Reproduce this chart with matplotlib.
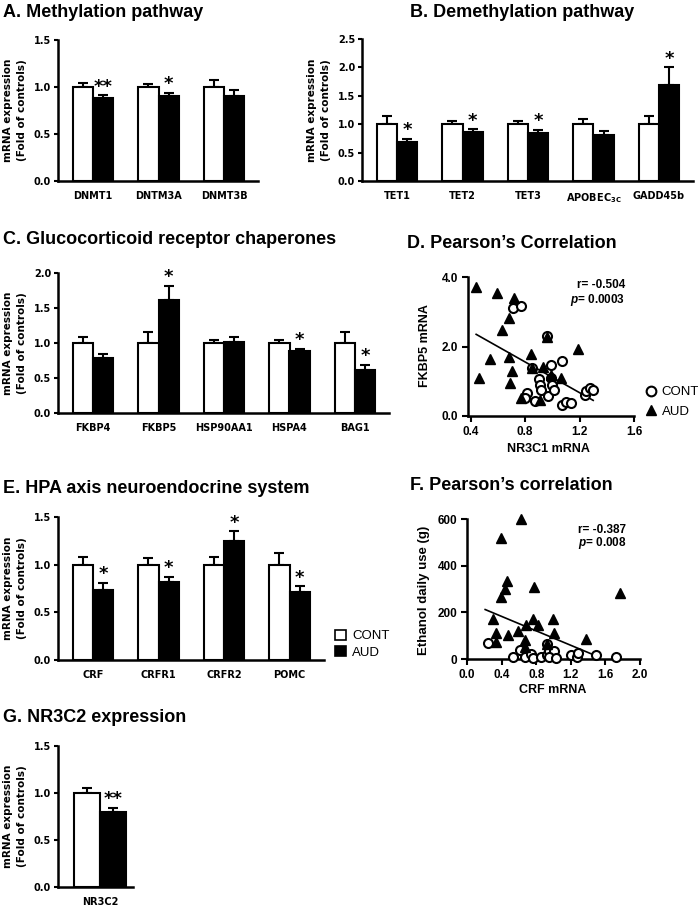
import numpy as np
import matplotlib
matplotlib.use("Agg")
import matplotlib.pyplot as plt
from matplotlib.lines import Line2D
from matplotlib.patches import Patch

plt.rcParams['font.family'] = ['Liberation Sans', 'DejaVu Sans']
plt.rcParams['mathtext.fontset'] = 'custom'
plt.rcParams['mathtext.rm'] = 'Liberation Sans:bold'
plt.rcParams['mathtext.it'] = 'Liberation Sans:italic:bold'
plt.rcParams['mathtext.bf'] = 'Liberation Sans:bold'

W, H = 698, 906

# ---- data -------------------------------------------------------------
a_genes = ["DNMT1", "DNTM3A", "DNMT3B"]
a_cont = [1.0, 1.0, 1.0]
a_cont_err = [0.04, 0.035, 0.075]
a_aud = [0.88, 0.90, 0.90]
a_aud_err = [0.035, 0.04, 0.065]
a_sig = ["**", "*", ""]

b_genes = ["TET1", "TET2", "TET3", r"APOBEC$_{\mathregular{3C}}$", "GADD45b"]
b_cont = [1.0, 1.0, 1.0, 1.0, 1.0]
b_cont_err = [0.15, 0.065, 0.065, 0.10, 0.15]
b_aud = [0.68, 0.86, 0.84, 0.81, 1.69]
b_aud_err = [0.065, 0.05, 0.06, 0.07, 0.31]
b_sig = ["*", "*", "*", "", "*"]

c_genes = ["FKBP4", "FKBP5", "HSP90AA1", "HSPA4", "BAG1"]
c_cont = [1.0, 1.0, 1.0, 1.0, 1.0]
c_cont_err = [0.09, 0.16, 0.05, 0.04, 0.16]
c_aud = [0.79, 1.62, 1.02, 0.88, 0.61]
c_aud_err = [0.05, 0.20, 0.06, 0.04, 0.08]
c_sig = ["", "*", "", "*", "*"]

e_genes = ["CRF", "CRFR1", "CRFR2", "POMC"]
e_cont = [1.0, 1.0, 1.0, 1.0]
e_cont_err = [0.08, 0.07, 0.08, 0.12]
e_aud = [0.73, 0.82, 1.25, 0.71]
e_aud_err = [0.08, 0.055, 0.10, 0.065]
e_sig = ["*", "*", "*", "*"]

g_genes = ["NR3C2"]
g_cont = [1.0]
g_cont_err = [0.05]
g_aud = [0.80]
g_aud_err = [0.045]
g_sig = ["**"]

# D: FKBP5 vs NR3C1
d_cont_x = [0.71, 0.77, 0.96, 0.85, 1.07, 0.99, 0.90, 0.91, 0.92, 0.97, 0.99, 1.00,
            1.01, 0.81, 0.80, 0.87, 1.07, 1.10, 1.14, 1.24, 1.25, 1.28, 1.30]
d_cont_y = [3.10, 3.17, 2.30, 1.37, 1.58, 1.47, 1.06, 0.88, 0.76, 0.57, 1.08, 0.88,
            0.76, 0.67, 0.52, 0.44, 0.32, 0.39, 0.37, 0.59, 0.71, 0.81, 0.74]
d_aud_x = [0.44, 0.59, 0.72, 0.68, 0.63, 0.54, 0.68, 0.46, 0.70, 0.69, 0.84, 1.19,
           0.93, 1.06, 0.99, 0.77, 0.91, 0.96, 0.85]
d_aud_y = [3.72, 3.55, 3.40, 2.82, 2.48, 1.65, 1.71, 1.09, 1.30, 0.95, 1.78, 1.94,
           1.40, 1.10, 1.19, 0.52, 0.47, 2.28, 1.37]
d_fit_x = [0.44, 1.30]
d_fit_y = [2.35, 0.45]

# F: ethanol use vs CRF
f_cont_x = [0.24, 0.53, 0.61, 0.67, 0.74, 0.76, 0.86, 0.92, 0.95, 1.01, 0.95, 1.03,
            1.20, 1.27, 1.28, 1.49, 1.72, 0.92]
f_cont_y = [69, 10, 39, 7, 22, 4, 7, 19, 36, 36, 7, 4, 19, 10, 24, 19, 7, 66]
f_aud_x = [0.62, 0.39, 0.46, 0.44, 0.39, 0.78, 1.77, 0.30, 0.34, 0.33, 0.47, 0.59,
           0.68, 0.76, 0.82, 0.99, 1.00, 0.67, 1.37, 0.67, 0.92]
f_aud_y = [600, 517, 335, 302, 266, 309, 281, 173, 112, 75, 105, 119, 147, 173, 144,
           173, 112, 83, 86, 50, 64]
f_fit_x = [0.21, 1.45]
f_fit_y = [212, 20]

# ---- layout helpers ------------------------------------------------------
GAP = 65.5   # px between gene groups
fig = plt.figure(figsize=(W / 100, H / 100), dpi=100)


def px_rect(l, t, r, b):
    return [l / W, 1 - b / H, (r - l) / W, (b - t) / H]


def title(x, y, s):
    fig.text(x / W, 1 - y / H, s, fontsize=13, fontweight='bold', va='baseline', ha='left')


def style_axes(ax, lw=1.8):
    for s in ('top', 'right'):
        ax.spines[s].set_visible(False)
    for s in ('left', 'bottom'):
        ax.spines[s].set_linewidth(lw)


def bar_panel(left, top, bottom, genes, cont, cont_err, aud, aud_err, sig, ymax, yticks,
              width=0.31, lpad=35, rpad=34):
    n = len(genes)
    right = left + lpad + (n - 1) * GAP + rpad
    ax = fig.add_axes(px_rect(left, top, right, bottom))
    x = np.arange(n)
    ax.bar(x - width / 2, cont, width, color='white', edgecolor='black', linewidth=1.5, zorder=2)
    ax.bar(x + width / 2, aud, width, color='black', edgecolor='black', linewidth=1.5, zorder=2)
    ax.errorbar(x - width / 2, cont, yerr=[np.zeros(n), cont_err], fmt='none', ecolor='black',
                elinewidth=1.5, capsize=3.5, capthick=1.5, zorder=1)
    ax.errorbar(x + width / 2, aud, yerr=[np.zeros(n), aud_err], fmt='none', ecolor='black',
                elinewidth=1.5, capsize=3.5, capthick=1.5, zorder=1)
    for xi, v, e, s in zip(x, aud, aud_err, sig):
        if s:
            ax.annotate(s, (xi + width / 2, v + e), xytext=(0, 2.5), textcoords='offset points',
                        ha='center', va='baseline', fontsize=13, fontweight='bold',
                        family='DejaVu Sans')
    ax.set_xlim(-lpad / GAP, (n - 1) + rpad / GAP)
    ax.set_ylim(0, ymax)
    ax.set_yticks(yticks)
    ax.set_yticklabels([f"{t:.1f}" for t in yticks], family='DejaVu Sans',
                       fontweight='bold', fontsize=7)
    ax.set_xticks(x)
    ax.set_xticklabels(genes, family='DejaVu Sans', fontweight='bold', fontsize=7)
    ax.tick_params(axis='x', length=0, pad=7)
    ax.tick_params(axis='y', length=3, width=1.5, pad=2)
    style_axes(ax)
    fig.text((left - 43) / W, 1 - (top + bottom) / 2 / H,
             "mRNA expression\n(Fold of controls)", rotation=90, ha='center', va='center',
             family='DejaVu Sans', fontweight='bold', fontsize=7.5, linespacing=1.45,
             multialignment='center')
    return ax


# ---- bar panels ------------------------------------------------------------
title(3, 17, "A. Methylation pathway")
bar_panel(58, 40, 181, a_genes, a_cont, a_cont_err, a_aud, a_aud_err, a_sig,
          1.5, [0.0, 0.5, 1.0, 1.5])

title(410, 17, "B. Demethylation pathway")
bar_panel(362, 39, 181, b_genes, b_cont, b_cont_err, b_aud, b_aud_err, b_sig,
          2.5, [0.0, 0.5, 1.0, 1.5, 2.0, 2.5])

title(3, 244, "C. Glucocorticoid receptor chaperones")
bar_panel(58, 273, 413, c_genes, c_cont, c_cont_err, c_aud, c_aud_err, c_sig,
          2.0, [0.0, 0.5, 1.0, 1.5, 2.0])

title(3, 493, "E. HPA axis neuroendocrine system")
bar_panel(58, 517, 660, e_genes, e_cont, e_cont_err, e_aud, e_aud_err, e_sig,
          1.5, [0.0, 0.5, 1.0, 1.5])

title(3, 722, "G. NR3C2 expression")
bar_panel(58, 746, 887, g_genes, g_cont, g_cont_err, g_aud, g_aud_err, g_sig,
          1.5, [0.0, 0.5, 1.0, 1.5], width=0.4, lpad=42, rpad=33)

# bar legend
fig.legend(handles=[Patch(facecolor='white', edgecolor='black', linewidth=1.2),
                    Patch(facecolor='black', edgecolor='black', linewidth=1.2)],
           labels=["CONT", "AUD"], loc='upper left',
           bbox_to_anchor=(335 / W, 1 - 629.5 / H), frameon=False, fontsize=9.5,
           handlelength=0.8, handleheight=0.8, handletextpad=0.5, labelspacing=0.3,
           borderpad=0, borderaxespad=0)


# ---- scatter panels ------------------------------------------------------------
def scatter_panel(rect_px, cx, cy, ax_, ay, fx, fy, xlim, ylim, xticks, yticks, xfmt, yfmt):
    ax = fig.add_axes(px_rect(*rect_px))
    ax.plot(cx, cy, 'o', ms=6.5, mfc='white', mec='black', mew=1.5, ls='none',
            clip_on=False, zorder=3)
    ax.plot(ax_, ay, '^', ms=6.5, color='black', ls='none', clip_on=False, zorder=4)
    ax.plot(fx, fy, '-', color='black', lw=1.2, zorder=2)
    ax.set_xlim(*xlim)
    ax.set_ylim(*ylim)
    ax.set_xticks(xticks)
    ax.set_xticklabels([xfmt.format(t) for t in xticks], fontweight='bold', fontsize=8.5)
    ax.set_yticks(yticks)
    ax.set_yticklabels([yfmt.format(t) for t in yticks], fontweight='bold', fontsize=8.5)
    ax.tick_params(length=4, width=1.5, pad=3)
    style_axes(ax)
    return ax


title(407, 248, "D. Pearson\u2019s Correlation")
axd = scatter_panel((468, 277, 634, 416), d_cont_x, d_cont_y, d_aud_x, d_aud_y,
                    d_fit_x, d_fit_y, (0.38, 1.6), (0, 4.0),
                    [0.4, 0.8, 1.2, 1.6], [0.0, 2.0, 4.0], "{:.1f}", "{:.1f}")
axd.text(1.535, 3.76, "r= -0.504", ha='right', va='center', fontsize=8.5, fontweight='bold')
axd.text(1.535, 3.35, r"$\it{p}$= 0.0003", ha='right', va='center', fontsize=8.5,
         fontweight='bold')
fig.text(425 / W, 1 - 346 / H, "FKBP5 mRNA", rotation=90, ha='center', va='center',
         fontsize=9, fontweight='bold')
fig.text(548 / W, 1 - 449 / H, "NR3C1 mRNA", ha='center', va='center',
         fontsize=9, fontweight='bold')
fig.legend(handles=[Line2D([], [], marker='o', ls='none', ms=7, mfc='white', mec='black', mew=1.5),
                    Line2D([], [], marker='^', ls='none', ms=7, color='black')],
           labels=["CONT", "AUD"], loc='upper left',
           bbox_to_anchor=(646 / W, 1 - 386 / H), frameon=False, fontsize=9.5,
           handlelength=0.8, handletextpad=0.4, labelspacing=0.55,
           borderpad=0, borderaxespad=0)

title(410, 490, "F. Pearson\u2019s correlation")
axf = scatter_panel((467, 519, 640, 659), f_cont_x, f_cont_y, f_aud_x, f_aud_y,
                    f_fit_x, f_fit_y, (0, 2.0), (0, 600),
                    [0.0, 0.4, 0.8, 1.2, 1.6, 2.0], [0, 200, 400, 600], "{:.1f}", "{:.0f}")
axf.text(1.84, 554, "r= -0.387", ha='right', va='center', fontsize=8.5, fontweight='bold')
axf.text(1.84, 498, r"$\it{p}$= 0.008", ha='right', va='center', fontsize=8.5,
         fontweight='bold')
fig.text(424 / W, 1 - 590 / H, "Ethanol daily use (g)", rotation=90, ha='center',
         va='center', fontsize=9.5, fontweight='bold')
fig.text(553 / W, 1 - 690 / H, "CRF mRNA", ha='center', va='center',
         fontsize=9, fontweight='bold')

fig.savefig("out.png", dpi=100)
